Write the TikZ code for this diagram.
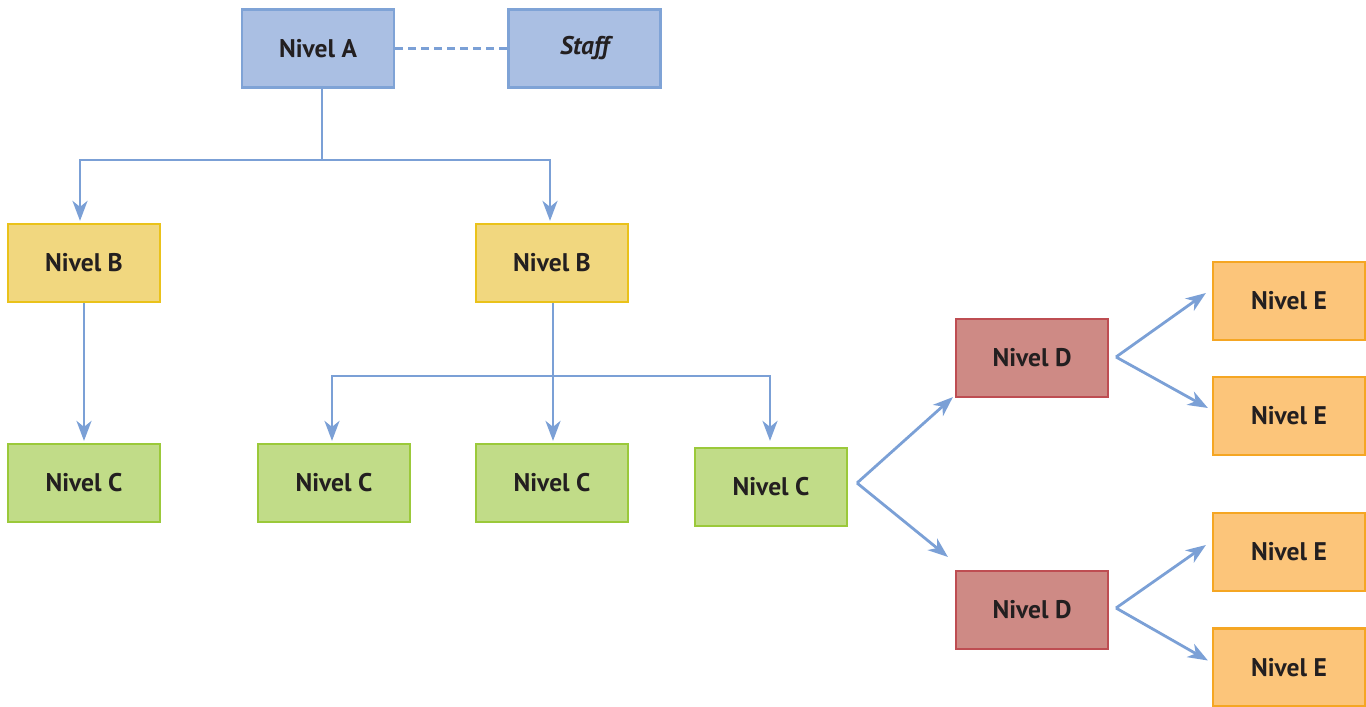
\documentclass[tikz,border=0pt]{standalone}
\usepackage{fontspec}
\setmainfont{PT Sans}
\usetikzlibrary{arrows.meta}

\definecolor{linkblue}{HTML}{7BA0D6}
\definecolor{afill}{HTML}{AABFE3}
\definecolor{adraw}{HTML}{7FA3D6}
\definecolor{bfill}{HTML}{F1D77F}
\definecolor{bdraw}{HTML}{EAC21A}
\definecolor{cfill}{HTML}{C1DC88}
\definecolor{cdraw}{HTML}{9BC93A}
\definecolor{dfill}{HTML}{CE8A85}
\definecolor{ddraw}{HTML}{BE4D52}
\definecolor{efill}{HTML}{FCC57A}
\definecolor{edraw}{HTML}{F5A623}
\definecolor{ink}{HTML}{231F20}

\tikzset{
  box/.style={rectangle, line width=2.2pt, minimum width=152pt, minimum height=78pt,
    inner sep=0pt, text=ink, font=\fontsize{25.5}{30}\selectfont\bfseries},
  boxA/.style={box, fill=afill, draw=adraw},
  boxB/.style={box, fill=bfill, draw=bdraw},
  boxC/.style={box, fill=cfill, draw=cdraw},
  boxD/.style={box, fill=dfill, draw=ddraw},
  boxE/.style={box, fill=efill, draw=edraw},
  conn/.style={draw=linkblue, line width=2.8pt},
  arr/.style={conn, -{Stealth[length=20pt,width=15pt,inset=6pt]}},
}

\begin{document}
\begin{tikzpicture}[x=1pt,y=-1pt]
\useasboundingbox (0,0) rectangle (1366,707);

% top level and staff
\node[boxA] (a) at (318,48.5) {Nivel A};
\node[boxA] (staff) at (584.5,48.5) {\itshape Staff};

% level B
\node[boxB] (b1) at (84,263) {Nivel B};
\node[boxB] (b2) at (552,263) {Nivel B};

% level C
\node[boxC] (c1) at (84,483) {Nivel C};
\node[boxC] (c2) at (334,483) {Nivel C};
\node[boxC] (c3) at (552,483) {Nivel C};
\node[boxC] (c4) at (771,487) {Nivel C};

% level D
\node[boxD] (d1) at (1032,358) {Nivel D};
\node[boxD] (d2) at (1032,610) {Nivel D};

% level E
\node[boxE] (e1) at (1289,301) {Nivel E};
\node[boxE] (e2) at (1289,416) {Nivel E};
\node[boxE] (e3) at (1289,552) {Nivel E};
\node[boxE] (e4) at (1289,667.5) {Nivel E};

% junction points
\coordinate (ja) at (322,160);
\coordinate (jb) at (553,376);
\coordinate (jc) at (857,483);
\coordinate (jd1) at (1116,357);
\coordinate (jd2) at (1116,608);

% staff link
\draw[conn, dash pattern=on 8pt off 5pt] (a.east) -- (staff.west);

% A to B
\draw[conn] ([xshift=4pt]a.south) -- (ja);
\draw[arr] (ja) -| ([xshift=-4pt,yshift=2pt]b1.north);
\draw[arr] (ja) -| ([xshift=-2pt,yshift=2pt]b2.north);

% B to C
\draw[arr] (b1.south) -- ([yshift=2pt]c1.north);
\draw[arr] ([xshift=1pt]b2.south) -- ([xshift=1pt,yshift=2pt]c3.north);
\draw[arr] (jb) -| ([xshift=-2pt,yshift=2pt]c2.north);
\draw[arr] (jb) -| ([xshift=-1pt,yshift=6pt]c4.north);

% C to D
\draw[arr] (jc) -- ([xshift=-2pt,yshift=1pt]d1.south west);
\draw[arr] (jc) -- ([xshift=-7pt,yshift=13pt]d2.north west);

% D to E
\draw[arr] (jd1) -- ([xshift=-6pt,yshift=8pt]e1.west);
\draw[arr] (jd1) -- ([xshift=-4pt,yshift=8pt]e2.west);
\draw[arr] (jd2) -- ([xshift=-6pt,yshift=7pt]e3.west);
\draw[arr] (jd2) -- ([xshift=-4pt,yshift=7pt]e4.west);
\end{tikzpicture}
\end{document}
